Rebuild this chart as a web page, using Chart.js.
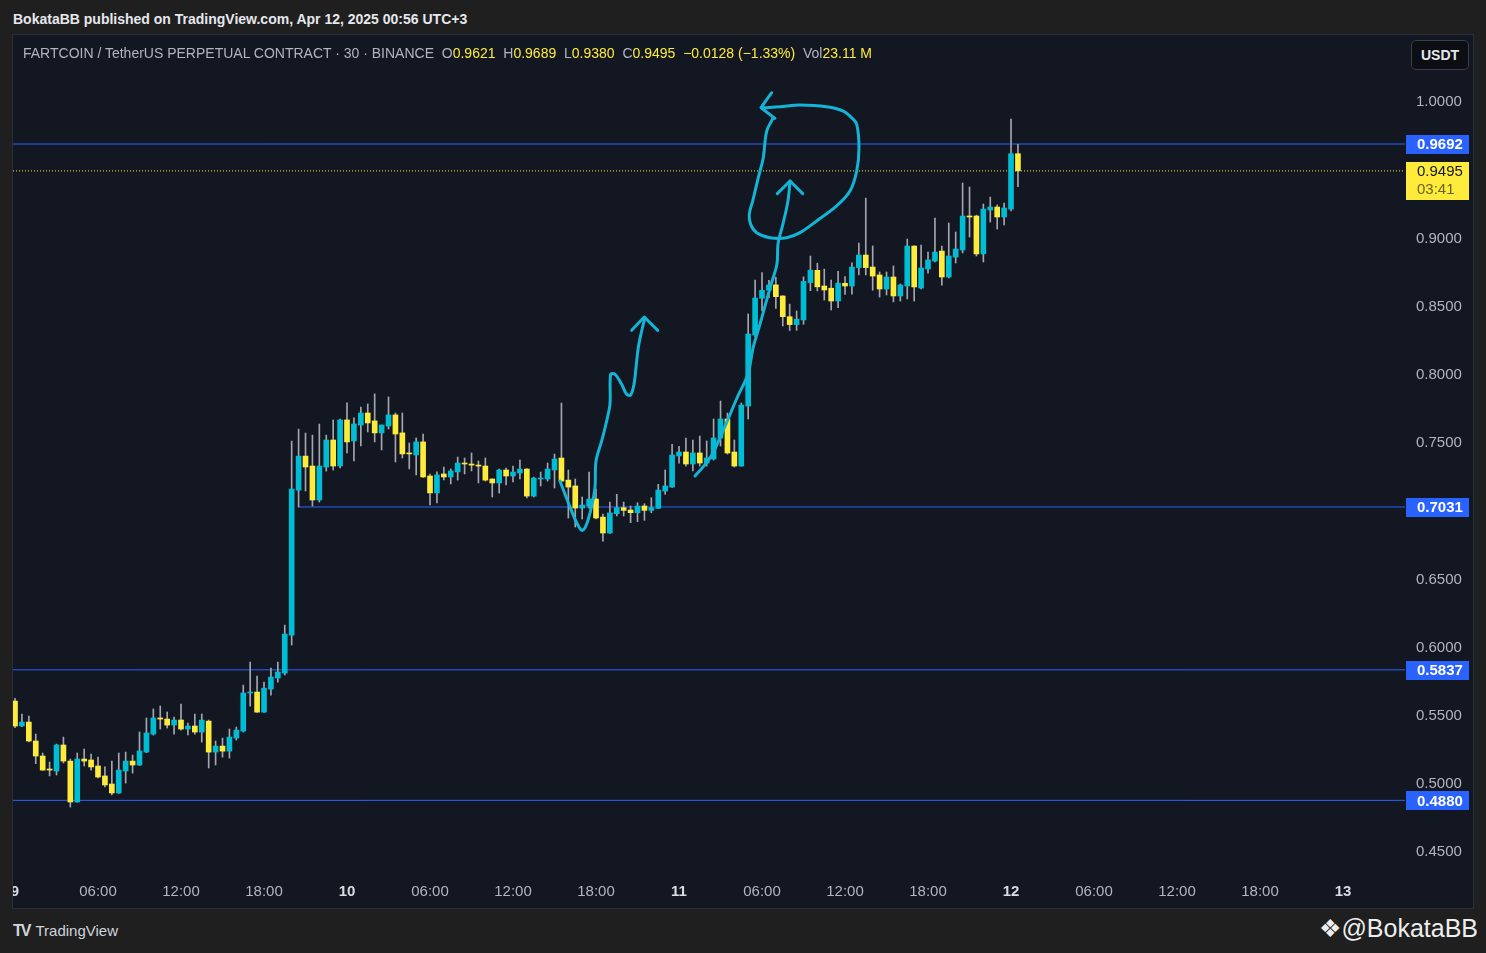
<!DOCTYPE html>
<html>
<head>
<meta charset="utf-8">
<script src="https://cdn.jsdelivr.net/npm/chart.js@4/dist/chart.umd.min.js"></script>
<style>
  html, body { margin: 0; padding: 0; background: #1f1f1f; width: 1486px; height: 953px; overflow: hidden;
    font-family: "Liberation Sans", Arial, sans-serif; }
  #pub { position: absolute; left: 13px; top: 11px; color: #e6e8ee; font-size: 14px; font-weight: bold; white-space: nowrap; }
  #panel { position: absolute; left: 12px; top: 34px; width: 1462px; height: 875px; background: #131722;
    border: 1px solid #2a2e39; box-sizing: border-box; }
  #chart { position: absolute; left: 13px; top: 35px; }
  #legend { position: absolute; left: 23px; top: 45px; font-size: 14px; color: #b2b5be; white-space: nowrap; }
  #legend .v { color: #ffeb3b; }
  #usdt { position: absolute; left: 1411px; top: 40px; width: 58px; height: 30px; box-sizing: border-box;
    background: #0c0e14; border: 1px solid #3a3e4a; border-radius: 5px; color: #e6e8ee; font-size: 14px;
    font-weight: bold; text-align: center; line-height: 28px; }
  #tv { position: absolute; left: 13px; top: 922px; color: #d1d4dc; font-size: 15px; white-space: nowrap; }
  #tv b { font-size: 16px; letter-spacing: -2px; margin-right: 6px; }
  #wm { position: absolute; right: 8px; top: 914px; color: #eeeeee; font-size: 25px; white-space: nowrap; }
</style>
</head>
<body>
<div id="pub">BokataBB published on TradingView.com, Apr 12, 2025 00:56 UTC+3</div>
<div id="panel"></div>
<canvas id="chart" width="1459" height="873"></canvas>
<div id="legend">FARTCOIN / TetherUS PERPETUAL CONTRACT · 30 · BINANCE &nbsp;O<span class="v">0.9621</span> &nbsp;H<span class="v">0.9689</span> &nbsp;L<span class="v">0.9380</span> &nbsp;C<span class="v">0.9495</span> &nbsp;<span class="v">−0.0128 (−1.33%)</span> &nbsp;Vol<span class="v">23.11 M</span></div>
<div id="usdt">USDT</div>
<div id="tv"><b>TV</b>TradingView</div>
<div id="wm">❖@BokataBB</div>
<script>
// 30 min candles, index 0 = Apr 9 00:00
const opens = [
  0.5608,0.5425,0.5454,0.5315,0.5205,0.5110,0.5095,0.5286,0.5168,0.4868,
  0.5183,0.5176,0.5132,0.5059,0.5000,0.4934,0.5095,0.5168,0.5139,0.5234,
  0.5366,0.5484,0.5476,0.5432,0.5469,0.5403,0.5425,0.5381,0.5461,0.5234,
  0.5278,0.5241,0.5337,0.5388,0.5667,0.5674,0.5527,0.5696,0.5777,0.5813,
  0.6092,0.7154,0.7404,0.7331,0.7082,0.7324,0.7522,0.7332,0.7669,0.7515,
  0.7632,0.7720,0.7662,0.7574,0.7625,0.7706,0.7574,0.7427,0.7412,0.7508,
  0.7258,0.7134,0.7273,0.7251,0.7288,0.7353,0.7346,0.7338,0.7331,0.7236,
  0.7207,0.7302,0.7258,0.7280,0.7309,0.7111,0.7236,0.7236,0.7302,0.7390,
  0.7228,0.7185,0.7023,0.7038,0.7089,0.6957,0.6840,0.6982,0.7026,0.7009,
  0.6989,0.7038,0.7006,0.7021,0.7148,0.7177,0.7405,0.7434,0.7346,0.7427,
  0.7353,0.7383,0.7537,0.7676,0.7434,0.7331,0.7771,0.8292,0.8561,0.8620,
  0.8659,0.8578,0.8426,0.8368,0.8402,0.8676,0.8766,0.8651,0.8635,0.8541,
  0.8671,0.8651,0.8786,0.8878,0.8790,0.8732,0.8629,0.8717,0.8578,0.8651,
  0.8944,0.8636,0.8776,0.8834,0.8907,0.8717,0.8863,0.8915,0.9164,0.9164,
  0.8886,0.9208,0.9230,0.9157,0.9215,0.9621
];
const highs = [
  0.5628,0.5513,0.5498,0.5366,0.5227,0.5161,0.5293,0.5344,0.5183,0.5227,
  0.5256,0.5220,0.5198,0.5125,0.5168,0.5227,0.5234,0.5212,0.5381,0.5484,
  0.5550,0.5572,0.5528,0.5491,0.5586,0.5447,0.5513,0.5513,0.5469,0.5315,
  0.5337,0.5403,0.5417,0.5725,0.5894,0.5791,0.5747,0.5850,0.5894,0.6165,
  0.7514,0.7602,0.7573,0.7558,0.7639,0.7558,0.7669,0.7676,0.7794,0.7684,
  0.7764,0.7786,0.7860,0.7632,0.7838,0.7720,0.7720,0.7500,0.7537,0.7566,
  0.7273,0.7288,0.7324,0.7310,0.7397,0.7390,0.7427,0.7368,0.7390,0.7238,
  0.7309,0.7317,0.7331,0.7375,0.7312,0.7250,0.7287,0.7353,0.7419,0.7793,
  0.7302,0.7236,0.7104,0.7287,0.7163,0.6979,0.7067,0.7124,0.7067,0.7038,
  0.7062,0.7055,0.7099,0.7197,0.7302,0.7490,0.7475,0.7537,0.7522,0.7551,
  0.7515,0.7676,0.7808,0.7720,0.7522,0.7793,0.8446,0.8695,0.8749,0.8693,
  0.8715,0.8580,0.8518,0.8468,0.8718,0.8871,0.8818,0.8775,0.8695,0.8758,
  0.8720,0.8821,0.8966,0.9295,0.8945,0.8754,0.8754,0.8798,0.8666,0.8995,
  0.8946,0.8951,0.8900,0.9149,0.8944,0.9113,0.9047,0.9406,0.9377,0.9171,
  0.9252,0.9303,0.9245,0.9259,0.9875,0.9689
];
const lows = [
  0.5413,0.5420,0.5308,0.5149,0.5100,0.5059,0.5066,0.5154,0.4831,0.4866,
  0.5132,0.5102,0.5044,0.4978,0.4919,0.4930,0.5007,0.5080,0.5135,0.5230,
  0.5359,0.5403,0.5410,0.5366,0.5395,0.5359,0.5366,0.5307,0.5117,0.5139,
  0.5197,0.5190,0.5322,0.5381,0.5571,0.5525,0.5525,0.5652,0.5747,0.5799,
  0.6019,0.7030,0.7148,0.7038,0.7067,0.7294,0.7302,0.7317,0.7427,0.7368,
  0.7478,0.7581,0.7508,0.7449,0.7603,0.7361,0.7390,0.7310,0.7266,0.7248,
  0.7046,0.7060,0.7229,0.7200,0.7228,0.7273,0.7295,0.7207,0.7221,0.7104,
  0.7133,0.7192,0.7214,0.7236,0.7097,0.7104,0.7185,0.7221,0.7170,0.7218,
  0.6950,0.6884,0.6943,0.7023,0.6943,0.6781,0.6838,0.6965,0.6965,0.6916,
  0.6923,0.6933,0.6989,0.7020,0.7124,0.7175,0.7353,0.7331,0.7295,0.7331,
  0.7331,0.7375,0.7478,0.7419,0.7324,0.7329,0.7676,0.8277,0.8468,0.8566,
  0.8487,0.8358,0.8325,0.8326,0.8370,0.8617,0.8615,0.8548,0.8475,0.8492,
  0.8590,0.8591,0.8732,0.8732,0.8620,0.8570,0.8585,0.8535,0.8541,0.8556,
  0.8541,0.8629,0.8746,0.8827,0.8658,0.8710,0.8820,0.8893,0.9010,0.8871,
  0.8827,0.9120,0.9069,0.9098,0.9201,0.9380
];
const closes = [
  0.5425,0.5454,0.5315,0.5205,0.5102,0.5102,0.5286,0.5168,0.4868,0.5183,
  0.5168,0.5125,0.5051,0.4993,0.4934,0.5102,0.5168,0.5139,0.5242,0.5374,
  0.5484,0.5476,0.5432,0.5469,0.5403,0.5425,0.5381,0.5469,0.5234,0.5278,
  0.5241,0.5344,0.5395,0.5667,0.5674,0.5527,0.5703,0.5784,0.5821,0.6099,
  0.7162,0.7404,0.7324,0.7082,0.7331,0.7522,0.7331,0.7669,0.7508,0.7640,
  0.7720,0.7647,0.7574,0.7632,0.7706,0.7566,0.7420,0.7420,0.7508,0.7251,
  0.7134,0.7266,0.7251,0.7295,0.7353,0.7346,0.7338,0.7331,0.7228,0.7207,
  0.7302,0.7258,0.7287,0.7309,0.7111,0.7243,0.7243,0.7309,0.7383,0.7221,
  0.7177,0.7023,0.7045,0.7089,0.6950,0.6840,0.6987,0.7026,0.7006,0.6989,
  0.7038,0.7006,0.7026,0.7155,0.7185,0.7412,0.7434,0.7346,0.7427,0.7353,
  0.7390,0.7537,0.7676,0.7427,0.7331,0.7778,0.8299,0.8563,0.8620,0.8659,
  0.8573,0.8426,0.8368,0.8408,0.8685,0.8767,0.8645,0.8622,0.8541,0.8672,
  0.8651,0.8790,0.8878,0.8786,0.8724,0.8629,0.8717,0.8578,0.8658,0.8944,
  0.8644,0.8783,0.8842,0.8900,0.8717,0.8871,0.8922,0.9164,0.9157,0.8886,
  0.9215,0.9230,0.9157,0.9223,0.9621,0.9495
];

const xMin = -0.29, xMax = 200.96;          // visible time range in candle units
const yMin = 0.43328, yMax = 1.04913;       // visible price range
const xTickValues = [0,12,24,36,48,60,72,84,96,108,120,132,144,156,168,180,192];
const xTickLabels = ['9','06:00','12:00','18:00','10','06:00','12:00','18:00','11','06:00','12:00','18:00','12','06:00','12:00','18:00','13'];
const yTickValues = [0.45,0.50,0.55,0.60,0.65,0.70,0.75,0.80,0.85,0.90,0.95,1.00];

// horizontal levels drawn by the author, and where each one starts
const levelValues = [0.9692, 0.7031, 0.5837, 0.4880];
const levelStarts = [xMin, 41, xMin, xMin];
const lastPrice = 0.9495;
const countdown = '03:41';

// freehand drawings, [candle index, price]
const drawWave = [[78.79,0.7221],[79.51,0.7126],[80.48,0.7001],[81.21,0.6915],[81.93,0.6860],[82.41,0.6879],
  [82.88,0.6941],[83.37,0.7038],[83.85,0.7172],[84.00,0.7368],[84.82,0.7515],[85.54,0.7661],[86.02,0.7786],
  [86.12,0.8004],[86.74,0.8004],[87.71,0.7930],[88.43,0.7857],[89.01,0.7852],[89.49,0.7930],[89.78,0.8052],
  [90.11,0.8199],[90.60,0.8321],[91.08,0.8419]];
const drawWaveHead = [[89.16,0.8326],[90.98,0.8424],[92.92,0.8326]];
const drawRise = [[98.31,0.7258],[100.48,0.7390],[102.36,0.7588],[104.38,0.7830],[105.97,0.8006],[106.70,0.8196],
  [107.71,0.8372],[109.15,0.8636],[110.16,0.8812],[110.31,0.8959],[111.03,0.9106],[111.75,0.9274],[112.05,0.9421]];
const drawRiseHead = [[110.21,0.9328],[112.05,0.9421],[113.88,0.9328]];
const drawLoop = [[109.63,0.9885],[108.68,0.9787],[108.18,0.9592],[107.46,0.9445],[106.65,0.9274],[106.16,0.9177],
  [106.36,0.9103],[107.23,0.9042],[109.15,0.9005],[111.57,0.9005],[113.49,0.9042],[115.90,0.9128],[118.79,0.9238],
  [120.72,0.9347],[121.69,0.9494],[122.02,0.9665],[121.69,0.9837],[120.96,0.9885],[119.75,0.9934],[117.35,0.9966],
  [113.49,0.9978],[110.60,0.9966],[108.18,0.9958]];
const drawLoopHead = [[109.40,1.0068],[107.85,0.9958],[109.87,0.9880]];

const UP = '#00bcd4', DOWN = '#ffeb3b', WICK = '#a3a6af', LEVEL = '#2962ff', PEN = '#13b4d6';
const FONT = '"Liberation Sans", Arial, sans-serif';

const wickData = opens.map((o,i)=>({x:i, y:[lows[i], highs[i]]}));
const bodyData = opens.map((o,i)=>({x:i, y:[o, closes[i]]}));
const bodyColors = opens.map((o,i)=> closes[i] >= o ? UP : DOWN);
const pts = arr => arr.map(p=>({x:p[0], y:p[1]}));

const datasets = [
  {type:'bar', data: wickData, backgroundColor: WICK, barThickness: 1, grouped: false, order: 3},
  {type:'bar', data: bodyData, backgroundColor: bodyColors, barThickness: 5, minBarLength: 1, grouped: false, order: 2}
];
levelValues.forEach((v,k)=>{
  datasets.push({type:'line', data:[{x:levelStarts[k], y:v},{x:xMax, y:v}], borderColor: LEVEL, borderWidth: 1, order: 4});
});
datasets.push({type:'line', data:[{x:xMin, y:lastPrice},{x:xMax, y:lastPrice}], borderColor: DOWN, borderWidth: 1, borderDash:[1,2], order: 4});
[drawWave, drawRise, drawLoop].forEach(d=>{
  datasets.push({type:'line', data: pts(d), borderColor: PEN, borderWidth: 3, tension: 0.35, borderCapStyle:'round', borderJoinStyle:'round', order: 0});
});
[drawWaveHead, drawRiseHead, drawLoopHead].forEach(d=>{
  datasets.push({type:'line', data: pts(d), borderColor: PEN, borderWidth: 3, tension: 0, borderCapStyle:'round', borderJoinStyle:'round', order: 0});
});

// price tags on the right axis
const priceTags = {
  id: 'priceTags',
  afterDraw(chart){
    const {ctx, chartArea} = chart;
    const ys = chart.scales.y;
    const left = chartArea.right + 1, w = 63;
    ctx.save();
    ctx.textBaseline = 'middle';
    ctx.textAlign = 'left';
    levelValues.forEach(v=>{
      const py = ys.getPixelForValue(v);
      ctx.fillStyle = LEVEL;
      ctx.fillRect(left, Math.round(py) - 9, w, 19);
      ctx.fillStyle = '#ffffff';
      ctx.font = 'bold 15px ' + FONT;
      ctx.fillText(v.toFixed(4), left + 11, py + 1);
    });
    const py = ys.getPixelForValue(lastPrice);
    ctx.fillStyle = DOWN;
    ctx.fillRect(left, Math.round(py) - 9, w, 38);
    ctx.fillStyle = '#131722';
    ctx.font = '15px ' + FONT;
    ctx.fillText(lastPrice.toFixed(4), left + 11, py + 1);
    ctx.fillStyle = '#6b6420';
    ctx.fillText(countdown, left + 11, py + 19);
    ctx.restore();
  }
};

new Chart(document.getElementById('chart'), {
  type: 'bar',
  data: { datasets },
  plugins: [priceTags],
  options: {
    responsive: false,
    animation: false,
    events: [],
    layout: { padding: 0 },
    elements: { point: { radius: 0 }, bar: { borderWidth: 0 } },
    plugins: { legend: { display: false }, tooltip: { enabled: false } },
    scales: {
      x: {
        type: 'linear', min: xMin, max: xMax, offset: false,
        grid: { display: false, drawTicks: false },
        border: { display: false },
        afterBuildTicks: s => { s.ticks = xTickValues.map(v=>({value:v})); },
        afterFit: s => { s.height = 33; s.paddingLeft = 0; s.paddingRight = 0; },
        ticks: {
          padding: 8, maxRotation: 0, autoSkip: false,
          callback: (v, i) => xTickLabels[i],
          color: c => (c.tick && c.tick.value % 48 === 0) ? '#d9dbe2' : '#b2b5be',
          font: c => (c.tick && c.tick.value % 48 === 0)
            ? {family: FONT, size: 15, weight: 'bold'}
            : {family: FONT, size: 15}
        }
      },
      y: {
        type: 'linear', position: 'right', min: yMin, max: yMax,
        grid: { display: false, drawTicks: false },
        border: { display: false },
        afterBuildTicks: s => { s.ticks = yTickValues.map(v=>({value:v})); },
        afterFit: s => { s.width = 67; s.paddingTop = 0; s.paddingBottom = 0; },
        ticks: {
          padding: 11, autoSkip: false,
          callback: v => v.toFixed(4),
          color: '#b2b5be',
          font: {family: FONT, size: 15}
        }
      }
    }
  }
});
</script>
</body>
</html>
